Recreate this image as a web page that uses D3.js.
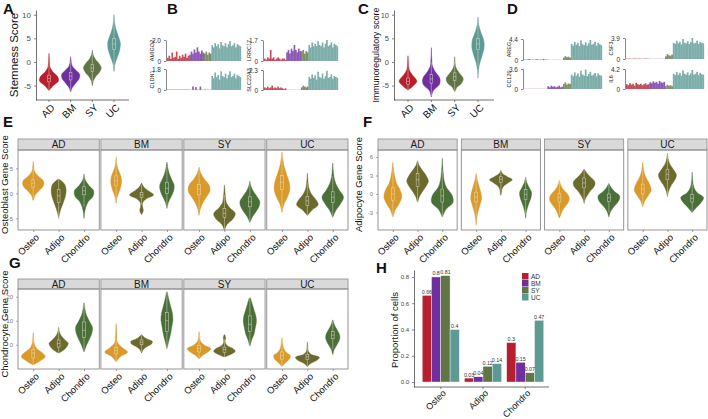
<!DOCTYPE html>
<html><head><meta charset="utf-8">
<script src="https://cdn.jsdelivr.net/npm/d3@7"></script>
<style>body{margin:0;background:#fff}svg{display:block}text{font-family:"Liberation Sans",Arial,Helvetica,sans-serif}</style>
</head><body><svg id="c" width="708" height="419"></svg>
<script>
// ---------------- DATA ----------------
const groups = ["AD","BM","SY","UC"];
const lineages = ["Osteo","Adipo","Chondro"];
const groupColors = ["#B71F2E","#6F2F9F","#5F7545","#5C9A93"];
const lineageColors = ["#D99A2C","#6B6A2D","#4A6F38"];

// violin: [min, max, q1, median, q3, density profile (min -> max)]
const stemness = [
  [-6.0, 1.8, -4.2, -3.5, -2.8, 0.03,0.45,1.0,0.9,0.4,0.12,0.05,0.03,0.01],
  [-6.3, 1.1, -3.8, -3.0, -2.2, 0.02,0.2,0.55,0.9,0.94,0.5,0.15,0.05,0.01],
  [-5.0, 2.5, -2.0, -1.3, -0.5, 0.02,0.1,0.35,0.75,0.94,0.7,0.3,0.08,0.01],
  [-2.0, 10.0, 2.6, 3.8, 5.0, 0.01,0.1,0.35,0.6,0.67,0.45,0.2,0.06,0.01]
];
const immunoreg = [
  [-5.9, 1.3, -4.8, -4.1, -3.4, 0.05,0.6,0.94,0.65,0.3,0.1,0.05,0.03,0.01],
  [-7.4, 3.0, -4.5, -3.6, -2.7, 0.01,0.2,0.85,0.9,0.45,0.12,0.05,0.02,0.01],
  [-6.3, 1.1, -3.9, -3.1, -2.3, 0.02,0.25,0.75,0.9,0.6,0.25,0.08,0.03,0.01],
  [-3.4, 9.5, 2.6, 3.8, 5.0, 0.01,0.05,0.2,0.45,0.65,0.6,0.3,0.08,0.01]
];
// per group: [Osteo, Adipo, Chondro]
const osteoblastScore = [
  [[-1.4,6.4,1.2,2.0,2.7, 0.02,0.15,0.5,0.85,0.85,0.4,0.1,0.04,0.01],
   [-5.0,2.8,-1.8,-0.5,0.8, 0.01,0.08,0.2,0.35,0.5,0.6,0.62,0.5,0.05],
   [-5.0,3.8,-0.3,0.5,1.3, 0.01,0.05,0.15,0.35,0.75,0.8,0.4,0.1,0.01]],
  [[-2.0,7.2,1.5,2.5,3.5, 0.01,0.08,0.25,0.4,0.45,0.35,0.15,0.05,0.01],
   [-4.2,2.0,-0.8,-0.3,0.2, 0.02,0.15,0.08,0.1,0.4,1.0,0.6,0.2,0.02],
   [-3.0,6.2,0.0,1.0,2.2, 0.02,0.12,0.35,0.55,0.6,0.4,0.2,0.08,0.01]],
  [[-4.4,5.2,-0.3,0.8,1.8, 0.01,0.1,0.3,0.6,0.9,0.85,0.45,0.15,0.01],
   [-7.4,1.6,-4.8,-4.0,-3.0, 0.01,0.2,0.7,0.9,0.45,0.15,0.08,0.04,0.01],
   [-5.8,2.4,-2.7,-1.7,-0.7, 0.01,0.2,0.5,0.75,0.83,0.6,0.3,0.1,0.01]],
  [[-3.8,8.2,0.8,2.2,3.6, 0.01,0.15,0.45,0.65,0.6,0.4,0.2,0.08,0.01],
   [-4.4,4.0,-2.4,-1.5,-0.6, 0.02,0.4,0.9,0.7,0.35,0.15,0.07,0.03,0.01],
   [-4.8,6.0,-1.8,-0.8,0.3, 0.01,0.25,0.65,0.9,0.55,0.25,0.1,0.04,0.01]]
];
const adipocyteScore = [
  [[-3.7,5.1,-1.0,0.0,1.0, 0.02,0.2,0.55,0.75,0.6,0.3,0.15,0.06,0.01],
   [-1.3,5.4,1.2,2.3,3.3, 0.02,0.15,0.4,0.7,0.9,0.75,0.45,0.15,0.01],
   [-3.7,5.8,-1.3,-0.3,0.8, 0.02,0.3,0.9,0.8,0.35,0.15,0.08,0.03,0.01]],
  [[-5.0,3.3,-1.3,-0.5,0.3, 0.01,0.05,0.15,0.3,0.45,0.4,0.25,0.1,0.01],
   [-0.2,3.8,1.9,2.4,2.8, 0.01,0.05,0.1,0.25,0.6,0.95,0.55,0.15,0.01],
   [-3.9,2.7,-0.9,-0.1,0.7, 0.01,0.05,0.15,0.3,0.45,0.5,0.3,0.1,0.01]],
  [[-3.9,2.2,-1.3,-0.6,0.1, 0.01,0.15,0.35,0.65,0.83,0.7,0.35,0.12,0.01],
   [-1.5,4.0,1.0,1.8,2.6, 0.01,0.1,0.3,0.55,0.85,0.9,0.6,0.25,0.02],
   [-3.7,1.7,-1.2,-0.6,0.0, 0.01,0.1,0.3,0.6,0.85,0.9,0.5,0.2,0.01]],
  [[-2.1,5.1,0.0,0.8,1.6, 0.01,0.15,0.45,0.7,0.6,0.35,0.15,0.05,0.01],
   [-0.4,6.6,2.3,3.2,4.0, 0.01,0.1,0.3,0.6,0.75,0.5,0.2,0.06,0.01],
   [-3.0,3.5,-1.3,-0.7,-0.1, 0.01,0.35,0.75,0.95,0.4,0.15,0.06,0.02,0.01]]
];
const chondrocyteScore = [
  [[-8.3,5.0,-5.5,-3.5,-2.0, 0.05,0.6,1.0,0.75,0.3,0.12,0.05,0.03,0.01],
   [-3.4,7.2,-1.0,0.5,2.0, 0.05,0.45,0.7,0.8,0.55,0.3,0.12,0.04,0.01],
   [-2.8,17.4,3.0,6.0,9.5, 0.03,0.2,0.45,0.65,0.7,0.45,0.2,0.08,0.02]],
  [[-7.0,8.7,-3.8,-2.5,-1.2, 0.03,0.35,0.95,0.5,0.12,0.06,0.04,0.03,0.01],
   [-3.3,4.2,0.0,1.0,2.0, 0.02,0.1,0.25,0.55,0.85,0.9,0.5,0.2,0.02],
   [-1.5,22.0,5.5,10.0,13.5, 0.02,0.15,0.3,0.4,0.5,0.45,0.3,0.15,0.03]],
  [[-5.8,5.4,-3.0,-1.5,-0.2, 0.03,0.3,0.75,1.0,0.45,0.15,0.06,0.03,0.01],
   [-5.0,4.2,-3.2,-2.0,-1.0, 0.05,0.6,0.9,0.7,0.25,0.08,0.06,0.1,0.02],
   [-0.5,19.5,5.5,8.5,12.0, 0.02,0.15,0.35,0.45,0.55,0.5,0.35,0.2,0.05]],
  [[-9.0,2.8,-6.0,-4.5,-3.0, 0.02,0.3,0.6,0.7,0.35,0.15,0.08,0.04,0.01],
   [-9.0,1.0,-6.2,-5.0,-4.0, 0.02,0.3,0.8,1.0,0.3,0.08,0.04,0.02,0.01],
   [-4.0,10.3,2.5,4.0,5.5, 0.02,0.1,0.3,0.5,0.6,0.5,0.3,0.12,0.02]]
];

const stemTicks = [-5,0,5,10];
const osteoTicks = [-5,0,5];
const adipoTicks = [-3,0,3,6];
const chondroTicks = [0,10,20];
const propTicks = [0,0.2,0.4,0.6,0.8];

// H: proportion of cells (per lineage, groups AD,BM,SY,UC)
const propOsteo = [0.66,0.80,0.81,0.40];
const propAdipo = [0.03,0.04,0.12,0.14];
const propChondro = [0.30,0.15,0.07,0.47];

// B / D: per-cell expression tracks (cells ordered AD | BM | SY | UC)
const trackGroupSizes = [15,10,5,20];
const genesB = ["AMIGO2","LRRC17","CLDN1","SLC22A3"];
const genesBMax = [2.0,1.7,1.8,2.3];
const genesD = ["AREG","CSF3","CCL20","IL6"];
const genesDMax = [4.4,3.9,3.6,4.2];
const AMIGO2 = [0.3,0.5,0.2,0.8,0.3,0.4,0.9,0.2,0.5,0.3,0.6,0.4,0.7,0.3,0.5,
  0.6,0.9,0.7,1.1,0.8,1.3,0.9,0.7,1.0,0.8, 0.7,0.9,0.6,0.8,0.7,
  1.5,1.3,1.7,1.4,1.6,1.2,1.8,1.5,1.4,1.7,1.3,1.6,1.9,1.4,1.5,1.7,1.3,1.6,1.5,1.4];
const LRRC17 = [0.2,0.1,0.3,0.2,0.9,0.2,0.3,0.1,0.2,0.3,0.2,0.1,0.2,0.2,0.1,
  0.7,0.9,0.6,1.0,0.8,1.3,0.9,0.7,1.0,0.8, 0.8,0.9,0.6,0.8,0.7,
  1.3,1.1,1.5,1.2,1.4,1.2,1.6,1.3,1.2,1.5,1.1,1.4,1.7,1.2,1.3,1.5,1.1,1.4,1.3,1.2];
const CLDN1 = [0.03,0.03,0.03,0.03,0.03,0.03,0.03,0.03,0.03,0.03,0.03,0.03,0.03,0.03,0.03,
  0.02,0.02,0.3,0.02,0.25,0.02,0.02,0.3,0.02,0.02, 0.05,0.02,0.03,0.02,0.02,
  1.2,1.0,1.5,1.1,1.3,0.9,1.6,1.2,1.1,1.4,1.0,1.3,1.6,1.1,1.2,1.4,1.0,1.3,1.2,1.1];
const SLC22A3 = [0.3,0.2,0.4,0.2,0.3,0.5,0.2,0.3,0.2,0.4,0.2,0.3,0.2,0.1,0.2,
  0.02,0.02,0.02,0.02,0.02,0.02,0.02,0.02,0.02,0.02, 0.3,0.5,0.4,0.3,0.4,
  1.5,1.3,1.8,1.4,1.7,1.2,2.1,1.5,1.4,1.9,1.3,1.6,2.2,1.4,1.5,1.8,1.3,1.6,1.5,1.4];
const AREG = [0.1,0.05,0.1,0.2,0.05,0.1,0.05,0.1,0.15,0.05,0.1,0.05,0.2,0.05,0.1,
  0.03,0.03,0.03,0.03,0.03,0.03,0.03,0.03,0.03,0.03, 0.5,0.8,0.6,0.7,0.5,
  3.4,3.0,3.8,3.2,3.6,2.9,4.1,3.3,3.1,3.7,3.0,3.5,4.2,3.2,3.4,3.8,3.0,3.6,3.3,3.1];
const CSF3 = [0.05,0.05,0.08,0.05,0.05,0.1,0.05,0.05,0.08,0.05,0.05,0.05,0.1,0.05,0.05,
  0.03,0.03,0.03,0.03,0.03,0.03,0.03,0.03,0.03,0.03, 0.5,0.9,0.7,0.6,0.8,
  3.0,2.8,3.4,2.9,3.2,2.7,3.7,3.0,2.9,3.3,2.8,3.1,3.9,2.9,3.0,3.4,2.8,3.2,3.0,2.9];
const CCL20 = [0.03,0.03,0.03,0.03,0.03,0.03,0.03,0.03,0.03,0.03,0.03,0.03,0.03,0.03,0.03,
  0.5,0.3,0.6,0.4,0.5,0.3,0.4,0.6,0.3,0.4, 0.9,1.2,0.8,1.0,0.9,
  2.6,2.3,3.0,2.4,2.8,2.2,3.3,2.6,2.4,3.5,2.3,2.7,3.1,2.4,2.6,2.9,2.3,2.8,2.5,2.4];
const IL6 = [1.0,0.8,1.2,0.9,1.1,0.7,1.3,1.0,0.9,1.1,0.8,1.0,1.2,0.9,1.0,
  1.4,1.2,1.6,1.3,1.5,1.1,1.7,1.4,1.3,1.5, 0.6,0.9,0.7,0.8,0.6,
  3.2,2.9,3.6,3.0,3.4,2.8,3.9,3.2,3.0,3.5,2.9,3.3,4.0,3.0,3.2,3.6,2.9,3.4,3.1,3.0];
const trackValues = {AMIGO2,LRRC17,CLDN1,SLC22A3,AREG,CSF3,CCL20,IL6};

// ---------------- DRAWING ----------------
const svg = d3.select("#c");
const fmtNum = d => String(d);

function panelLabel(t,x,y){
  svg.append("text").attr("x",x).attr("y",y).text(t)
    .attr("font-size",15).attr("font-weight","bold").attr("fill","#111");
}

function drawViolin(g, d, cx, y, wScale, color, boxW){
  const lo=d[0], hi=d[1], q1=d[2], med=d[3], q3=d[4], prof=d.slice(5);
  const n=prof.length;
  const pts=prof.map((w,i)=>({v: lo+(hi-lo)*i/(n-1), w}));
  const area=d3.area().y(p=>y(p.v))
    .x0(p=>cx-wScale(p.w)/2).x1(p=>cx+wScale(p.w)/2)
    .curve(d3.curveCatmullRom.alpha(0.5));
  g.append("path").attr("d",area(pts)).attr("fill",color).attr("stroke",color).attr("stroke-width",0.4);
  const iqr=q3-q1;
  const wlo=Math.max(lo,q1-1.5*iqr), whi=Math.min(hi,q3+1.5*iqr);
  const bc="#ece6da";
  const bx=g.append("g").attr("stroke",bc).attr("stroke-opacity",0.75).attr("stroke-width",0.6).attr("fill","none");
  bx.append("line").attr("x1",cx).attr("x2",cx).attr("y1",y(wlo)).attr("y2",y(q1));
  bx.append("line").attr("x1",cx).attr("x2",cx).attr("y1",y(q3)).attr("y2",y(whi));
  bx.append("rect").attr("x",cx-boxW/2).attr("width",boxW).attr("y",y(q3)).attr("height",y(q1)-y(q3));
  bx.append("line").attr("x1",cx-boxW/2).attr("x2",cx+boxW/2).attr("y1",y(med)).attr("y2",y(med));
}

function styleAxis(ax, fs, col){
  ax.select(".domain").attr("stroke","#333").attr("stroke-width",0.7);
  ax.selectAll(".tick line").attr("stroke","#333").attr("stroke-width",0.6);
  ax.selectAll("text").attr("font-size",fs).attr("fill",col).style("font-family",'"Liberation Sans",Arial,sans-serif');
}

// ---- A & C : single violin plots
function groupViolins(data, xRange, yLabel, labelX, labelSize, tickSize){
  const x=d3.scaleBand().domain(groups).range(xRange).padding(0.2);
  const y=d3.scaleLinear().domain([-8.06,11.0]).range([100,10]);
  const w=d3.scaleLinear().domain([0,1]).range([0,19]);
  const g=svg.append("g");
  data.forEach((d,i)=>drawViolin(g,d,x(groups[i])+x.bandwidth()/2,y,w,groupColors[i],2.6));
  const ay=svg.append("g").attr("transform",`translate(${xRange[0]},0)`)
    .call(d3.axisLeft(y).tickValues(stemTicks).tickFormat(fmtNum).tickSize(2).tickSizeOuter(0));
  styleAxis(ay,tickSize,"#4d4d4d");
  const ax=svg.append("g").attr("transform",`translate(0,100)`)
    .call(d3.axisBottom(x).tickSize(2).tickSizeOuter(0));
  styleAxis(ax,10,"#111");
  ax.select(".domain").attr("d",`M${xRange[0]},0H${xRange[1]+2}`);
  ax.selectAll("text").attr("y",0).attr("x",0).attr("dy","0.75em").attr("dx","0")
    .attr("transform","translate(1,3) rotate(-45)").style("text-anchor","end");
  svg.append("text").attr("transform",`translate(${labelX},55) rotate(-90)`)
    .attr("text-anchor","middle").attr("font-size",labelSize).attr("fill","#111").text(yLabel);
}
panelLabel("A",3,14);
groupViolins(stemness,[36,127],"Stemness Score",18,11.5,8);
panelLabel("C",358,14);
groupViolins(immunoreg,[394,492],"Immunoregulatory score",379,8.8,7.5);

// ---- B & D : expression tracks
function track(x0,width,yTop,yBot,name,max,vals){
  const x=d3.scaleBand().domain(d3.range(vals.length)).range([x0+1,x0+width]);
  const y=d3.scaleLinear().domain([0,max]).range([yBot,yTop]);
  const idx=[]; trackGroupSizes.forEach((n,gi)=>{for(let k=0;k<n;k++) idx.push(gi);});
  svg.append("g").selectAll("rect").data(vals).join("rect")
    .attr("x",(d,i)=>x(i)).attr("width",x.bandwidth()+0.15)
    .attr("y",d=>y(d)).attr("height",d=>yBot-y(d))
    .attr("fill",(d,i)=>groupColors[idx[i]]).attr("fill-opacity",0.8);
  const ay=svg.append("g").attr("transform",`translate(${x0},0)`)
    .call(d3.axisLeft(y).tickValues([0,max]).tickFormat(d=>d===0?"0":d3.format(".1f")(d)).tickSize(2).tickSizeOuter(0));
  styleAxis(ay,6.5,"#333");
  ay.select(".domain").attr("stroke","#555");
  svg.append("text").attr("transform",`translate(${x0-12},${(yTop+yBot)/2}) rotate(-90)`)
    .attr("text-anchor","middle").attr("font-size",5.5).attr("fill","#222").text(name);
}
panelLabel("B",167,14);
const bPos=[[166,40,61],[263,40,61],[166,69,90],[263,70,90]];
genesB.forEach((gn,i)=>track(bPos[i][0],75,bPos[i][1],bPos[i][2],gn,genesBMax[i],trackValues[gn]));
panelLabel("D",507,14);
const dPos=[[523,39,60],[625,38,59],[523,69,89],[625,69,89]];
genesD.forEach((gn,i)=>track(dPos[i][0],79,dPos[i][1],dPos[i][2],gn,genesDMax[i],trackValues[gn]));

// ---- E, F, G : faceted violins
function facets(data, xRange, pad, stripTop, bodyTop, bodyBottom, yDomain, ticks, yLabel, labelX){
  const fx=d3.scaleBand().domain(groups).range(xRange).paddingInner(pad);
  const y=d3.scaleLinear().domain(yDomain).range([bodyBottom,bodyTop]);
  const w=d3.scaleLinear().domain([0,1]).range([0,24]);
  groups.forEach((gn,gi)=>{
    const x0=fx(gn), bw=fx.bandwidth();
    svg.append("rect").attr("x",x0).attr("y",stripTop).attr("width",bw).attr("height",bodyTop-stripTop)
      .attr("fill","#D9D9D9").attr("stroke","#8a8a8a").attr("stroke-width",0.8);
    svg.append("text").attr("x",x0+bw/2).attr("y",(stripTop+bodyTop)/2).attr("dy","0.36em")
      .attr("text-anchor","middle").attr("font-size",10).attr("fill","#1a1a1a").text(gn);
    const xi=d3.scalePoint().domain(lineages).range([x0,x0+bw]).padding(0.6);
    const g=svg.append("g");
    data[gi].forEach((d,li)=>drawViolin(g,d,xi(lineages[li]),y,w,lineageColors[li],2.8));
    const ax=svg.append("g").attr("transform",`translate(0,${bodyBottom})`)
      .call(d3.axisBottom(xi).tickSize(2).tickSizeOuter(0));
    styleAxis(ax,9.5,"#111");
    ax.select(".domain").remove();
    ax.selectAll(".tick line").attr("stroke","#555");
    ax.selectAll("text").attr("y",0).attr("x",0).attr("dy","0.75em")
      .attr("transform","translate(1,3) rotate(-45)").style("text-anchor","end");
    svg.append("rect").attr("x",x0).attr("y",bodyTop).attr("width",bw).attr("height",bodyBottom-bodyTop)
      .attr("fill","none").attr("stroke","#8a8a8a").attr("stroke-width",0.9);
  });
  const ay=svg.append("g").attr("transform",`translate(${xRange[0]},0)`)
    .call(d3.axisLeft(y).tickValues(ticks).tickFormat(fmtNum).tickSize(2).tickSizeOuter(0));
  styleAxis(ay,6,"#777");
  ay.select(".domain").remove();
  ay.selectAll(".tick line").attr("stroke","#777");
  svg.append("text").attr("transform",`translate(${labelX},${(stripTop+bodyBottom)/2}) rotate(-90)`)
    .attr("text-anchor","middle").attr("font-size",9.5).attr("fill","#111").text(yLabel);
}
panelLabel("E",3,127);
facets(osteoblastScore,[18,348],0.02,139,150,230,[-7.34,8.66],osteoTicks,"Osteoblast Gene Score",8);
panelLabel("F",363,127);
facets(adipocyteScore,[378,707],0.05,139,150,230,[-5.83,7.13],adipoTicks,"Adipocyte Gene Score",362);
panelLabel("G",9,268);
facets(chondrocyteScore,[18,348],0.02,279,289,369,[-10.1,23.2],chondroTicks,"Chondrocyte Gene Score",8);

// ---- H : grouped bars
panelLabel("H",376,273);
(function(){
  const props=[propOsteo,propAdipo,propChondro];
  const x0=d3.scaleBand().domain(lineages).range([418,548]).paddingInner(0.12).paddingOuter(0.1);
  const x1=d3.scaleBand().domain(groups).range([0,x0.bandwidth()]);
  const y=d3.scaleLinear().domain([-0.038,0.853]).range([387,270]);
  const g=svg.append("g");
  lineages.forEach((ln,li)=>{
    const gg=g.append("g").attr("transform",`translate(${x0(ln)},0)`);
    gg.selectAll("rect").data(props[li]).join("rect")
      .attr("x",(d,i)=>x1(groups[i])).attr("width",x1.bandwidth())
      .attr("y",d=>y(d)).attr("height",d=>y(0)-y(d))
      .attr("fill",(d,i)=>groupColors[i]).attr("stroke","#fff").attr("stroke-width",0.4);
    gg.selectAll("text").data(props[li]).join("text")
      .attr("x",(d,i)=>x1(groups[i])+x1.bandwidth()/2).attr("y",d=>y(d)-1.5)
      .attr("text-anchor","middle").attr("font-size",5.3).attr("fill","#333").text(d=>fmtNum(d));
  });
  const ay=svg.append("g").attr("transform","translate(414,0)")
    .call(d3.axisLeft(y).tickValues(propTicks).tickFormat(d3.format(".1f")).tickSize(2).tickSizeOuter(0));
  styleAxis(ay,6,"#444");
  const ax=svg.append("g").attr("transform","translate(0,387)")
    .call(d3.axisBottom(x0).tickSize(2).tickSizeOuter(0));
  styleAxis(ax,9,"#111");
  ax.select(".domain").attr("d","M414,0H549");
  ax.selectAll("text").attr("y",0).attr("x",0).attr("dy","0.75em")
    .attr("transform","translate(1,2) rotate(-45)").style("text-anchor","end");
  svg.append("text").attr("transform","translate(398,330) rotate(-90)")
    .attr("text-anchor","middle").attr("font-size",9.5).attr("fill","#111").text("Proportion of cells");
  const lg=svg.append("g");
  groups.forEach((gn,i)=>{
    lg.append("rect").attr("x",522).attr("y",273+i*7).attr("width",6.5).attr("height",6.5).attr("fill",groupColors[i]);
    lg.append("text").attr("x",531).attr("y",276.5+i*7).attr("dy","0.35em").attr("font-size",6.5).attr("fill","#333").text(gn);
  });
})();
</script></body></html>
